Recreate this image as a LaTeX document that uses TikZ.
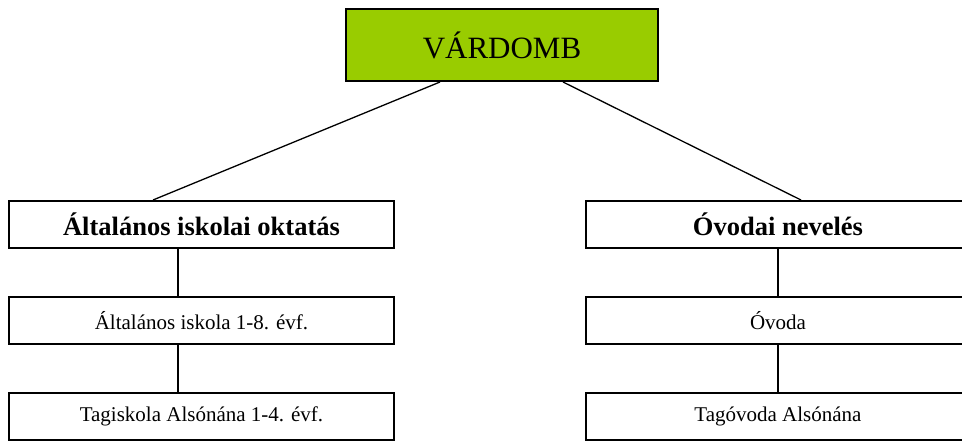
\documentclass[tikz,border=0pt]{standalone}
\usepackage{fontspec}
\setmainfont{Liberation Serif}
\usepackage{tikz}
\definecolor{vgreen}{HTML}{99CC00}

\begin{document}
\begin{tikzpicture}[x=1pt, y=-1pt,
	box/.style={draw, line width=2pt, inner sep=0pt, minimum width=385pt, minimum height=47pt},
	link/.style={line width=1.3pt}]
	\useasboundingbox (0,0) rectangle (962,441);
	% head
	\node[box, fill=vgreen, minimum width=312pt, minimum height=72pt, font=\fontsize{31}{36}\selectfont] (top) at (502,45) {VÁRDOMB};
	% left branch
	\node[box, font=\fontsize{26.5}{30}\selectfont\bfseries] (iskola) at (201.5,224.5) {Általános iskolai oktatás};
	\node[box, font=\fontsize{21}{25}\selectfont] (alt) at (201.5,320.5) {Általános iskola 1-8. évf.};
	\node[box, font=\fontsize{21}{25}\selectfont] (tagisk) at (201.5,416) {Tagiskola Alsónána 1-4. évf.};
	% right branch
	\node[box, font=\fontsize{26.5}{30}\selectfont\bfseries] (ovodai) at (778,224.5) {Óvodai nevelés};
	\node[box, font=\fontsize{21}{25}\selectfont] (ovoda) at (778,320.5) {Óvoda};
	\node[box, font=\fontsize{21}{25}\selectfont] (tagovi) at (778,416) {Tagóvoda Alsónána};
	% connectors
	\draw[link] ([xshift=-62pt]top.south) -- ([xshift=-48.5pt]iskola.north);
	\draw[link] ([xshift=61pt]top.south) -- ([xshift=23pt]ovodai.north);
	\draw[link] ([xshift=-23.5pt]iskola.south) -- ([xshift=-23.5pt]alt.north);
	\draw[link] ([xshift=-23.5pt]alt.south) -- ([xshift=-23.5pt]tagisk.north);
	\draw[link] (ovodai.south) -- (ovoda.north);
	\draw[link] (ovoda.south) -- (tagovi.north);
\end{tikzpicture}
\end{document}
